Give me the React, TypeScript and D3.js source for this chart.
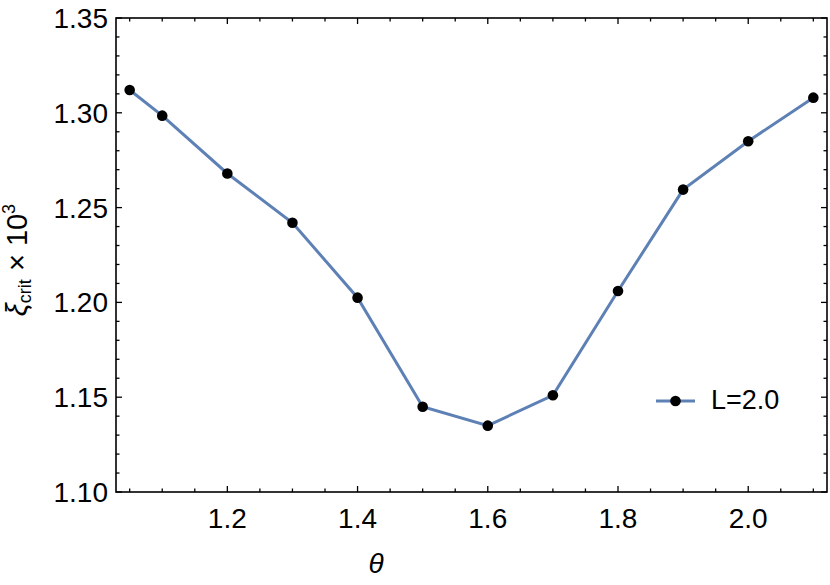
import React, { useRef, useEffect } from 'react';
import * as d3 from 'd3';

const thetaValues = [1.05, 1.1, 1.2, 1.3, 1.4, 1.5, 1.6, 1.7, 1.8, 1.9, 2.0, 2.1];
const xiCritValues = [1.312, 1.2985, 1.268, 1.242, 1.2025, 1.145, 1.135, 1.151, 1.206, 1.2595, 1.285, 1.308];
const xTickLabels = [1.2, 1.4, 1.6, 1.8, 2.0];
const yTickLabels = [1.1, 1.15, 1.2, 1.25, 1.3, 1.35];
const seriesName = 'L=2.0';

function App() {
    const ref = useRef<SVGSVGElement | null>(null);

    useEffect(() => {
        const width = 830;
        const height = 585;
        const left = 116, right = 827, top = 18, bottom = 492;
        const font = 'Liberation Sans, Arial, sans-serif';
        const lineColor = '#5e81b5';

        const svg = d3.select(ref.current);
        svg.selectAll('*').remove();
        svg.attr('width', width).attr('height', height);

        const x = d3.scaleLinear().domain([1.029, 2.121]).range([left, right]);
        const y = d3.scaleLinear().domain([1.1, 1.35]).range([bottom, top]);

        // frame
        svg.append('rect')
            .attr('x', left).attr('y', top)
            .attr('width', right - left).attr('height', bottom - top)
            .attr('fill', 'none').attr('stroke', '#000').attr('stroke-width', 1.6);

        // x ticks (major every 0.2, minor every 0.05), bottom and top
        const xMinor = d3.range(1.05, 2.1201, 0.05).map(v => +v.toFixed(2));
        const isMajorX = (v: number) => xTickLabels.some(t => Math.abs(t - v) < 1e-6);
        const g = svg.append('g').attr('stroke', '#000').attr('stroke-width', 1.3);
        xMinor.forEach(v => {
            const len = isMajorX(v) ? 6 : 3.5;
            g.append('line').attr('x1', x(v)).attr('x2', x(v)).attr('y1', bottom).attr('y2', bottom - len);
            g.append('line').attr('x1', x(v)).attr('x2', x(v)).attr('y1', top).attr('y2', top + len);
        });

        // y ticks (major every 0.05, minor every 0.01), left and right
        const yMinor = d3.range(1.1, 1.3501, 0.01).map(v => +v.toFixed(2));
        const isMajorY = (v: number) => yTickLabels.some(t => Math.abs(t - v) < 1e-6);
        yMinor.forEach(v => {
            const len = isMajorY(v) ? 6 : 3.5;
            g.append('line').attr('y1', y(v)).attr('y2', y(v)).attr('x1', left).attr('x2', left + len);
            g.append('line').attr('y1', y(v)).attr('y2', y(v)).attr('x1', right).attr('x2', right - len);
        });

        // tick labels
        svg.append('g').selectAll('text').data(xTickLabels).enter().append('text')
            .attr('x', d => x(d)).attr('y', 528)
            .attr('text-anchor', 'middle')
            .attr('font-family', font).attr('font-size', 28)
            .text(d => d.toFixed(1));

        svg.append('g').selectAll('text').data(yTickLabels).enter().append('text')
            .attr('x', 108).attr('y', d => y(d) + 10)
            .attr('text-anchor', 'end')
            .attr('font-family', font).attr('font-size', 28)
            .text(d => d.toFixed(2));

        // axis labels
        svg.append('text')
            .attr('x', 376).attr('y', 573)
            .attr('text-anchor', 'middle')
            .attr('font-family', font).attr('font-size', 28)
            .attr('font-style', 'italic')
            .text('θ');

        const yl = svg.append('text')
            .attr('transform', 'translate(27,260) rotate(-90)')
            .attr('text-anchor', 'middle')
            .attr('font-family', font).attr('font-size', 29);
        yl.append('tspan').attr('font-style', 'italic').text('ξ');
        yl.append('tspan').attr('font-size', 18).attr('dy', 4).text('crit');
        yl.append('tspan').attr('dy', -4).text(' × 10');
        yl.append('tspan').attr('font-size', 18).attr('dy', -12).text('3');

        // series
        const data = thetaValues.map((t, i) => [t, xiCritValues[i]] as [number, number]);
        const line = d3.line<[number, number]>().x(d => x(d[0])).y(d => y(d[1]));
        svg.append('path')
            .datum(data)
            .attr('fill', 'none')
            .attr('stroke', lineColor)
            .attr('stroke-width', 3)
            .attr('d', line);

        svg.append('g').selectAll('circle').data(data).enter().append('circle')
            .attr('cx', d => x(d[0])).attr('cy', d => y(d[1]))
            .attr('r', 5.3).attr('fill', '#000');

        // legend
        const lg = svg.append('g');
        lg.append('line').attr('x1', 656).attr('x2', 695).attr('y1', 401).attr('y2', 401)
            .attr('stroke', lineColor).attr('stroke-width', 3);
        lg.append('circle').attr('cx', 675.5).attr('cy', 401).attr('r', 5.3).attr('fill', '#000');
        lg.append('text').attr('x', 711).attr('y', 409)
            .attr('font-family', font).attr('font-size', 27)
            .text(seriesName);
    }, []);

    return (
        <svg ref={ref} style={{ position: 'absolute', left: 0, top: 0 }}></svg>
    );
}

export default App;
